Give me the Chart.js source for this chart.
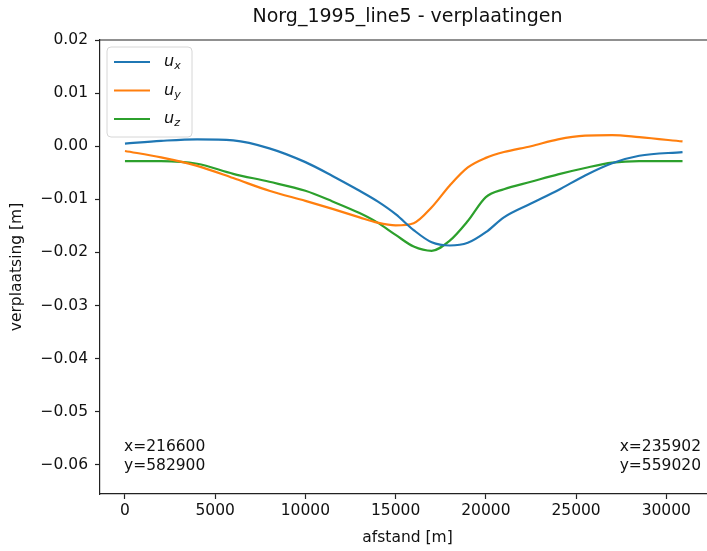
<!DOCTYPE html>
<html>
<head>
<meta charset="utf-8">
<script src="https://cdn.jsdelivr.net/npm/chart.js@4/dist/chart.umd.min.js"></script>
<style>
  html, body { margin: 0; padding: 0; background: #fff; overflow: hidden; }
  #wrap { width: 707px; height: 551px; overflow: hidden; }
</style>
</head>
<body>
<div id="wrap"><canvas id="chart" width="716" height="551"></canvas></div>
<script>
// afstand langs de lijn [m]
const distance = [0, 2000, 4000, 6000, 8000, 10000, 11500, 13000, 14000, 15000, 16000,
  17000, 18000, 19000, 20000, 21000, 22500, 24000, 25500, 27000, 28500, 30900];

// verplaatsingen [m]
const ux = [0.0005, 0.0010, 0.0013, 0.0011, -0.0004, -0.0030, -0.0056, -0.0084, -0.0104, -0.0128, -0.0158,
  -0.0181, -0.0187, -0.0182, -0.0162, -0.0134, -0.0108, -0.0083, -0.0055, -0.0032, -0.0018, -0.0011];
const uy = [-0.0009, -0.0021, -0.0037, -0.0060, -0.0084, -0.0103, -0.0118, -0.0134, -0.0144, -0.0149, -0.0145,
  -0.0115, -0.0074, -0.0040, -0.0022, -0.0011, 0.0000, 0.0013, 0.0020, 0.0021, 0.0017, 0.0009];
const uz = [-0.0028, -0.0028, -0.0033, -0.0052, -0.0067, -0.0084, -0.0104, -0.0126, -0.0144, -0.0167, -0.0189,
  -0.0197, -0.0178, -0.0141, -0.0096, -0.0081, -0.0067, -0.0053, -0.0041, -0.0031, -0.0028, -0.0028];

const xTicks = [0, 5000, 10000, 15000, 20000, 25000, 30000];
const yTicks = [0.02, 0.01, 0.00, -0.01, -0.02, -0.03, -0.04, -0.05, -0.06];

const seriesNames = ['x', 'y', 'z'];
const colors = ['#1f77b4', '#ff7f0e', '#2ca02c'];
const startLabel = ['x=216600', 'y=582900'];
const endLabel = ['x=235902', 'y=559020'];

const FONT = "'DejaVu Sans', sans-serif";
const toPoints = arr => distance.map((d, i) => ({ x: d, y: arr[i] }));

// frame, title, legend and coordinate notes (matplotlib look)
const decorPlugin = {
  id: 'decor',
  afterDraw(chart) {
    const { ctx, chartArea: a } = chart;
    ctx.save();
    // top spine (right spine falls outside the picture)
    ctx.strokeStyle = '#222';
    ctx.lineWidth = 1.2;
    ctx.beginPath();
    ctx.moveTo(a.left, a.top);
    ctx.lineTo(a.right, a.top);
    ctx.stroke();

    // title
    ctx.fillStyle = '#111';
    ctx.font = '19px ' + FONT;
    ctx.textAlign = 'center';
    ctx.textBaseline = 'middle';
    ctx.fillText('Norg_1995_line5 - verplaatingen', (a.left + a.right) / 2, 17);

    // legend
    const bx = a.left + 7, by = a.top + 7, bw = 85, bh = 90;
    ctx.fillStyle = 'rgba(255,255,255,0.85)';
    ctx.strokeStyle = '#d6d6d6';
    ctx.lineWidth = 1;
    ctx.beginPath();
    ctx.roundRect(bx, by, bw, bh, 4);
    ctx.fill();
    ctx.stroke();
    seriesNames.forEach((s, i) => {
      const y = by + 15 + i * 28.5;
      ctx.strokeStyle = colors[i];
      ctx.lineWidth = 2.2;
      ctx.beginPath();
      ctx.moveTo(bx + 7, y);
      ctx.lineTo(bx + 43, y);
      ctx.stroke();
      ctx.fillStyle = '#111';
      ctx.textAlign = 'left';
      ctx.textBaseline = 'alphabetic';
      ctx.font = 'italic 16px ' + FONT;
      ctx.fillText('u', bx + 57, y + 4);
      const w = ctx.measureText('u').width;
      ctx.font = 'italic 11px ' + FONT;
      ctx.fillText(s, bx + 57 + w, y + 7);
    });

    // coordinates of start and end point
    ctx.fillStyle = '#111';
    ctx.font = '15.5px ' + FONT;
    ctx.textBaseline = 'middle';
    ctx.textAlign = 'left';
    ctx.fillText(startLabel[0], 124, 447);
    ctx.fillText(startLabel[1], 124, 466);
    ctx.textAlign = 'right';
    ctx.fillText(endLabel[0], 701, 447);
    ctx.fillText(endLabel[1], 701, 466);
    ctx.restore();
  }
};

new Chart(document.getElementById('chart'), {
  type: 'line',
  data: {
    datasets: [ux, uy, uz].map((arr, i) => ({
      label: 'u' + seriesNames[i],
      data: toPoints(arr),
      borderColor: colors[i],
      backgroundColor: colors[i],
      borderWidth: 2.2,
      pointRadius: 0,
      cubicInterpolationMode: 'monotone',
      fill: false
    }))
  },
  options: {
    responsive: false,
    animation: false,
    layout: { padding: { top: 40, right: 1, left: 0, bottom: 0 } },
    plugins: {
      legend: { display: false },
      title: { display: false },
      tooltip: { enabled: false }
    },
    scales: {
      x: {
        type: 'linear',
        min: -1384,
        max: 32700,
        afterFit: s => { s.height = 57; },
        afterBuildTicks: s => { s.ticks = xTicks.map(v => ({ value: v })); },
        grid: { drawOnChartArea: false, drawTicks: true, tickLength: 5, tickColor: '#222', tickWidth: 1.2 },
        border: { display: true, color: '#222', width: 1.2 },
        ticks: {
          color: '#111',
          padding: 3,
          maxRotation: 0,
          autoSkip: false,
          font: { family: FONT, size: 15.5 },
          callback: v => String(v)
        },
        title: {
          display: true,
          text: 'afstand [m]',
          color: '#111',
          padding: { top: 0, bottom: 4 },
          font: { family: FONT, size: 15.5 }
        }
      },
      y: {
        min: -0.0655,
        max: 0.02,
        afterFit: s => { s.width = 100; },
        afterBuildTicks: s => { s.ticks = yTicks.map(v => ({ value: v })); },
        grid: { drawOnChartArea: false, drawTicks: true, tickLength: 5, tickColor: '#222', tickWidth: 1.2 },
        border: { display: true, color: '#222', width: 1.2 },
        ticks: {
          color: '#111',
          padding: 7,
          autoSkip: false,
          font: { family: FONT, size: 15.5 },
          callback: v => v.toFixed(2).replace('-', '\u2212').replace('\u22120.00', '0.00')
        },
        title: {
          display: true,
          text: 'verplaatsing [m]',
          color: '#111',
          padding: { top: 8, bottom: 0 },
          font: { family: FONT, size: 15.5 }
        }
      }
    }
  },
  plugins: [decorPlugin]
});
</script>
</body>
</html>
